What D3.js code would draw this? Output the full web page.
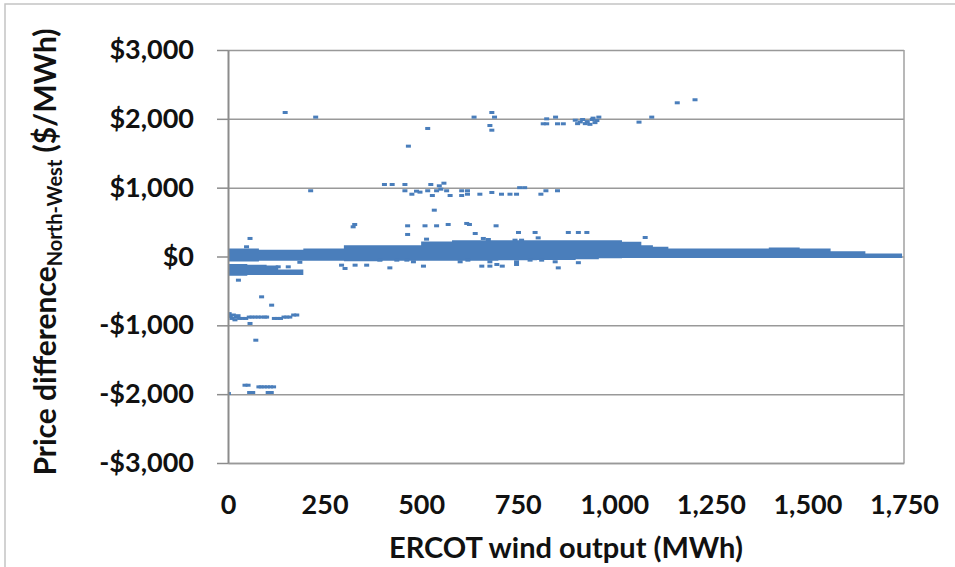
<!DOCTYPE html>
<html>
<head>
<meta charset="utf-8">
<script src="https://cdn.jsdelivr.net/npm/d3@7"></script>
<style>
  body { margin: 0; background: #fff; }
  text { font-family: Lato, "Open Sans", sans-serif; font-weight: bold; fill: #111; }
</style>
</head>
<body>
<div id="chart"></div>
<script>
// --- data ---

const yTicks = [-3000, -2000, -1000, 0, 1000, 2000, 3000];
const xTicks = [0, 250, 500, 750, 1000, 1250, 1500, 1750];

// dense cloud around $0 (drawn as a band: upper / lower edge)
const bandX   = [0, 80, 195, 300, 400, 500, 580, 700, 800, 900, 960, 1020, 1070, 1100, 1140, 1330, 1400, 1480, 1560, 1650, 1745];
const bandTop = [116, 97, 116, 164, 164, 218, 237, 237, 237, 237, 237, 213, 164, 140, 116, 116, 130, 116, 77, 44, 44];
const bandBot = [-72, -60, -60, -70, -60, -60, -60, -55, -50, -40, -25, -20, -20, -20, -20, -20, -20, -20, -20, -20, -20];

// second dense strip just below $0 at low wind output
const lowX   = [0, 50, 100, 130, 160, 195];
const lowTop = [-110, -120, -130, -190, -190, -200];
const lowBot = [-280, -270, -270, -270, -270, -270];

// scattered hours (wind output MWh, price difference $/MWh)
const pointsX = [
  148, 227, 637, 683, 690, 678, 683, 816, 825, 825, 848, 853, 868, 899, 905, 912, 918, 925, 930, 937, 943, 950, 955, 945, 960, 1064, 1097, 1163, 1209, 517, 467,
  214, 405, 425, 458, 458, 476, 488, 497, 517, 525, 529, 540, 547, 551, 559, 566, 575, 605, 605, 620, 620, 652, 683, 708, 730, 747, 755, 768, 810, 823, 853, 534,
  324, 328, 465, 465, 510, 540, 570, 618, 625, 640, 694, 661, 674, 752, 795, 881, 907, 929, 743, 760, 803, 514, 57, 48, 1080,
  91, 130, 156, 186, 294, 303, 329, 359, 393, 419, 437, 463, 480, 506, 601, 621, 657, 678, 678, 696, 710, 747, 747, 782, 812, 847, 855, 907, 27, 87, 113,
  3, 6, 10, 14, 18, 22, 26, 30, 38, 46, 55, 62, 70, 78, 86, 95, 100, 120, 128, 136, 145, 152, 160, 170, 178, 57, 72,
  1, 44, 52, 56, 64, 80, 86, 94, 102, 110, 118, 104, 112
];
const pointsY = [
  2092, 2025, 2025, 2092, 2025, 1903, 1835, 1928, 1928, 2000, 2025, 1928, 1928, 1980, 1930, 1955, 1990, 1930, 1960, 1920, 1990, 1945, 1975, 2010, 2025, 1952, 2025, 2233, 2277, 1860, 1603,
  955, 1046, 1046, 1046, 955, 905, 949, 935, 955, 1046, 886, 955, 1027, 978, 1065, 955, 886, 955, 886, 955, 905, 905, 930, 905, 905, 905, 1000, 1000, 905, 955, 955, 673,
  431, 465, 446, 320, 446, 446, 465, 480, 465, 334, 446, 262, 247, 349, 349, 349, 349, 349, 237, 237, 271, 252, 262, 141, 276,
  -150, -150, -150, -84, -126, -174, -126, -126, -53, -165, -53, -53, -77, -140, -77, -53, -140, -77, -140, -116, -140, -77, -116, -53, -53, -77, -165, -90, -344, -586, -707,
  -830, -870, -900, -850, -920, -880, -860, -900, -900, -900, -880, -880, -880, -880, -880, -880, -880, -900, -900, -900, -880, -880, -880, -850, -850, -973, -1216,
  -1990, -1870, -1870, -1976, -1976, -1894, -1894, -1894, -1894, -1894, -1894, -1976, -1976
];

// --- chart ---

const W = 955, H = 567;
const svg = d3.select("#chart").append("svg").attr("width", W).attr("height", H);
svg.append("rect").attr("width", W).attr("height", H).attr("fill", "#fff");

// outer chart frame (left and top edges visible)
svg.append("path").attr("d", "M5,567V4H955").attr("fill", "none")
  .attr("stroke", "#c4c4c4").attr("stroke-width", 1.5);

const x = d3.scaleLinear().domain([0, 1750]).range([228, 904]);
const y = d3.scaleLinear().domain([-3000, 3000]).range([463, 50]);

// gridlines
svg.append("g").attr("transform", "translate(228,0)")
  .call(d3.axisLeft(y).tickValues(yTicks).tickSize(-(x(1750) - x(0))).tickFormat(""))
  .call(g => g.select(".domain").remove())
  .selectAll("line").attr("stroke", "#999").attr("stroke-width", 1.5);

// plot area right edge
svg.append("line").attr("x1", x(1750)).attr("x2", x(1750)).attr("y1", y(3000)).attr("y2", y(-3000))
  .attr("stroke", "#a0a0a0").attr("stroke-width", 1.5);

svg.append("clipPath").attr("id", "plot").append("rect")
  .attr("x", x(0)).attr("y", y(3000)).attr("width", x(1750) - x(0)).attr("height", y(-3000) - y(3000));

const blue = "#4a7ebb";
const plot = svg.append("g").attr("clip-path", "url(#plot)");

const area = d3.area()
  .x(d => x(d[0])).y0(d => y(d[2])).y1(d => y(d[1]))
  .curve(d3.curveStepAfter);

plot.append("path").datum(bandX.map((v, i) => [v, bandTop[i], bandBot[i]]))
  .attr("d", area).attr("fill", blue);
plot.append("path").datum(lowX.map((v, i) => [v, lowTop[i], lowBot[i]]))
  .attr("d", area).attr("fill", blue);

plot.selectAll("rect.pt")
  .data(pointsX.map((v, i) => [v, pointsY[i]]))
  .enter().append("rect")
  .attr("class", "pt")
  .attr("x", d => x(d[0]) - 2.5)
  .attr("y", d => y(d[1]) - 1.5)
  .attr("width", 5)
  .attr("height", 3)
  .attr("fill", blue);

// y axis
const money = v => (v < 0 ? "-" : "") + "$" + d3.format(",")(Math.abs(v));
const yAxis = svg.append("g").attr("transform", "translate(228,0)")
  .call(d3.axisLeft(y).tickValues(yTicks).tickSize(11).tickSizeOuter(0).tickPadding(23).tickFormat(money));
yAxis.select(".domain").attr("stroke", "#8c8c8c").attr("stroke-width", 2);
yAxis.selectAll("line").attr("stroke", "#8c8c8c").attr("stroke-width", 1.5);
yAxis.selectAll("text").style("font-size", "27px").attr("fill", "#111");

// x axis
const xAxis = svg.append("g").attr("transform", `translate(0,${y(-3000)})`)
  .call(d3.axisBottom(x).tickValues(xTicks).tickSize(0).tickPadding(32).tickFormat(d3.format(",")));
xAxis.select(".domain").attr("stroke", "#999").attr("stroke-width", 1.5);
xAxis.selectAll("text").style("font-size", "27px").attr("fill", "#111");

// axis titles
svg.append("text")
  .attr("x", (x(0) + x(1750)) / 2)
  .attr("y", 558)
  .attr("text-anchor", "middle")
  .style("font-size", "29px")
  .text("ERCOT wind output (MWh)");

const yt = svg.append("text")
  .attr("transform", "translate(56,252) rotate(-90)")
  .attr("text-anchor", "middle")
  .style("font-size", "30px");
yt.append("tspan").text("Price difference");
yt.append("tspan").attr("dy", 6).style("font-size", "20px").text("North-West");
yt.append("tspan").attr("dy", -6).text(" ($/MWh)");
</script>
</body>
</html>
